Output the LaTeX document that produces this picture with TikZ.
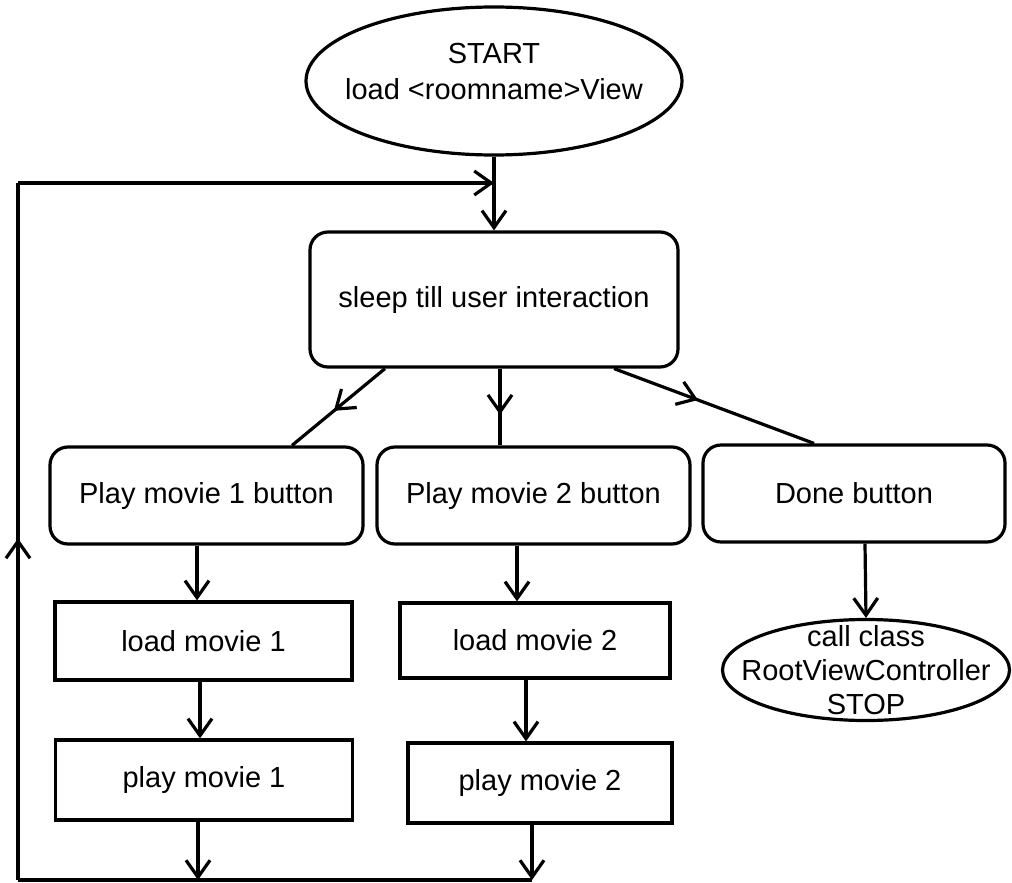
\documentclass[tikz,border=0pt]{standalone}
\usepackage{fontspec}
\setmainfont{Liberation Sans}
\usetikzlibrary{shapes.geometric,arrows.meta,decorations.markings}
\begin{document}
\begin{tikzpicture}[x=1pt,y=-1pt,
  line width=3.2pt,
  >={Straight Barb[length=17pt,width=24pt]},
  every node/.style={font=\fontsize{29}{34}\selectfont},
  roundbox/.style={draw, rounded corners=18pt, inner sep=0pt},
  plainbox/.style={draw, inner sep=0pt},
  oval/.style={draw, ellipse, inner sep=0pt},
  midarrow/.style={postaction={decorate},
    decoration={markings, mark=at position #1 with {\arrow{>}}}},
]
\fill[white] (0,0) rectangle (1012,883);
\useasboundingbox (0,0) rectangle (1012,883);

% start and central wait state
\node[oval, minimum width=376pt, minimum height=148pt,
  label={[align=center, yshift=9pt]center:START\\[2pt]load <roomname>View}]
  (start) at (494,81) {};
\node[roundbox, minimum width=368pt, minimum height=135pt] (sleep) at (494,299.5)
  {sleep till user interaction};

% the three buttons
\node[roundbox, minimum width=313pt, minimum height=97pt] (pm1) at (206.5,495.5)
  {Play movie 1 button};
\node[roundbox, minimum width=313pt, minimum height=97pt] (pm2) at (533.5,495.5)
  {Play movie 2 button};
\node[roundbox, minimum width=302pt, minimum height=97pt] (done) at (854,493.5)
  {Done button};

% movie branches
\node[plainbox, minimum width=297pt, minimum height=78pt] (load1) at (203.5,641) {load movie 1};
\node[plainbox, minimum width=297pt, minimum height=80pt] (play1) at (204,780) {play movie 1};
\node[plainbox, minimum width=270pt, minimum height=75pt] (load2) at (535,640.5) {load movie 2};
\node[plainbox, minimum width=264pt, minimum height=80pt] (play2) at (540,783) {play movie 2};

% exit
\node[oval, minimum width=287pt, minimum height=101pt,
  label={[align=center]center:call class\\RootViewController\\STOP}]
  (stop) at (866,670) {};

% loop corners
\coordinate (lt) at (18,183);
\coordinate (lb) at (18,880);
\coordinate (b1) at (198,880);
\coordinate (b2) at (532,880);

% connectors
\draw[->] (start.south) -- (sleep.north);
\draw[midarrow=0.55] (sleep.south -| 385,0) -- (pm1.north -| 292,0);
\draw[midarrow=0.6] (sleep.south -| 500,0) -- (pm2.north -| 500,0);
\draw[midarrow=0.42] (sleep.south -| 614,0) -- (done.north -| 814,0);

\draw[->] (pm1.south -| 197,0) -- (load1.north -| 197,0);
\draw[->] (load1.south -| 200,0) -- (play1.north -| 200,0);
\draw[->] (play1.south -| b1) -- (b1);

\draw[->] (pm2.south -| 517,0) -- (load2.north -| 517,0);
\draw[->] (load2.south -| 526,0) -- (play2.north -| 526,0);
\draw[->] (play2.south -| b2) -- (b2);

\draw[->] (done.south -| 865,0) -- (stop.north);

% return path to the wait state
\draw (lb) -- (b2);
\draw[midarrow=0.49] (lb) -- (lt);
\draw[->] (lt) -- (lt -| start.south);
\end{tikzpicture}
\end{document}
